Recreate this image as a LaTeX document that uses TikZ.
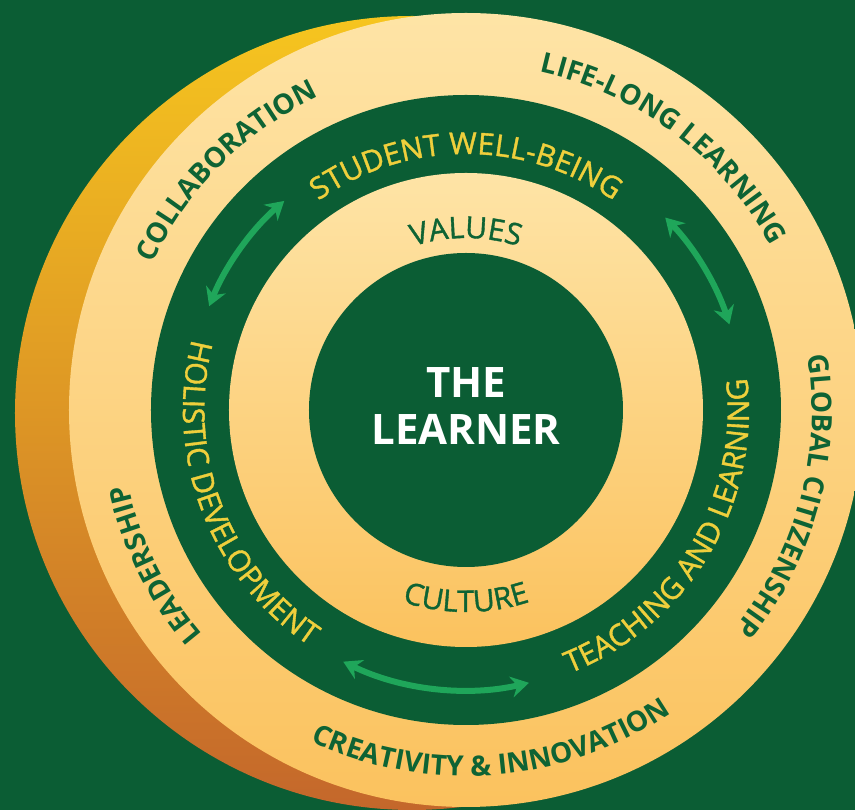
\documentclass[tikz,border=0pt]{standalone}
\usepackage{fontspec}
\setmainfont{Open Sans}
\newfontfamily\bandfamily{Open Sans}[FakeBold=1.2]
\usetikzlibrary{decorations.text, arrows.meta}

\definecolor{bggreen}{HTML}{0B5D34}
\definecolor{ringpale}{HTML}{FEE4A6}
\definecolor{ringdeep}{HTML}{FBC25E}
\definecolor{rimyellow}{HTML}{F6C51F}
\definecolor{rimmid}{HTML}{E39C2E}
\definecolor{rimorange}{HTML}{C4672B}
\definecolor{textgreen}{HTML}{0E6334}
\definecolor{textyellow}{HTML}{EFCF3C}
\definecolor{arrowgreen}{HTML}{1FA65A}

\newcommand{\outerfont}{\fontsize{28}{30}\selectfont\bfseries}
\newcommand{\bandfont}{\fontsize{30}{34}\selectfont\bandfamily}

\begin{document}
\begin{tikzpicture}[x=1pt, y=1pt,
    outertext/.style={decorate, decoration={text along path, text align=center,
        text color=textgreen, text={|\outerfont|#1}}},
    bandtext/.style={decorate, decoration={text along path, text align=center,
        text color=textyellow, text={|\bandfont|#1}}},
    innertext/.style={decorate, decoration={text along path, text align=center,
        text color=textgreen, text={|\bandfont|#1}}},
    twoway/.style={arrowgreen, line width=6pt,
        {Stealth[length=18pt, width=21pt, inset=6pt]}-{Stealth[length=18pt, width=21pt, inset=6pt]}}]

    % Background
    \useasboundingbox (-466,-400) rectangle (389,410);
    \fill[bggreen] (-466,-400) rectangle (389,410);

    % Draw the golden rim behind the disc
    \shade[top color=rimyellow, middle color=rimmid, bottom color=rimorange] (-54,-3) circle (397);

    % Draw the rings
    \shade[top color=ringpale, bottom color=ringdeep] (0,0) circle (397);
    \fill[bggreen] (0,0) circle (315);
    \shade[top color=ringpale, bottom color=ringdeep] (0,0) circle (237);
    \fill[bggreen] (0,0) circle (157);

    % Centre
    \node[text=white, align=center, font=\fontsize{42}{47}\selectfont\bfseries] (learner) at (0,4) {THE\\LEARNER};

    % Outer ring
    \path[outertext=COLLABORATION] (170:346) arc[start angle=170, end angle=100, radius=346];
    \path[outertext=LIFE-LONG LEARNING] (90:346) arc[start angle=90, end angle=16, radius=346];
    \path[outertext=GLOBAL CITIZENSHIP] (23:346) arc[start angle=23, end angle=-53, radius=346];
    \path[outertext=LEADERSHIP] (236:346) arc[start angle=236, end angle=177, radius=346];
    \path[outertext={CREATIVITY {\&} INNOVATION}] (226:366) arc[start angle=226, end angle=323, radius=366];

    % Middle band
    \path[bandtext=STUDENT WELL-BEING] (135:256) arc[start angle=135, end angle=45, radius=256];
    \path[bandtext=HOLISTIC DEVELOPMENT] (150:283) arc[start angle=150, end angle=252, radius=283];
    \path[bandtext=TEACHING AND LEARNING] (-82:283) arc[start angle=-82, end angle=20, radius=283];

    % Inner ring
    \path[innertext=VALUES] (130:172) arc[start angle=130, end angle=50, radius=172];
    \path[innertext=CULTURE] (230:202) arc[start angle=230, end angle=310, radius=202];

    % Arrows
    \draw[twoway] (131:277) arc[start angle=131, end angle=158, radius=277];
    \draw[twoway] (44:277) arc[start angle=44, end angle=18, radius=277];
    \draw[twoway] (244:280) arc[start angle=244, end angle=283, radius=280];
\end{tikzpicture}
\end{document}
